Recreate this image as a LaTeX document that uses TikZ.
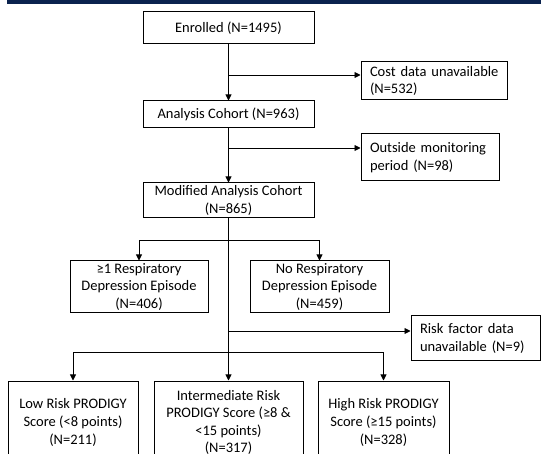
\documentclass[tikz,border=0pt]{standalone}
\usepackage{fontspec}
\setmainfont{Carlito}
\usetikzlibrary{arrows.meta}
\definecolor{navybar}{RGB}{10,34,78}
\begin{document}
\begin{tikzpicture}[x=1pt,y=-1pt,
  box/.style={draw, line width=1pt, inner sep=0pt, align=center,
    font=\fontsize{14.5}{17.6}\selectfont},
  lbox/.style={box, align=left},
  conn/.style={line width=0.9pt},
  arr/.style={conn, -{Triangle[length=6pt,width=6pt]}}]
\useasboundingbox (0,0) rectangle (541,454);
\clip (0,0) rectangle (541,454);
\fill[navybar] (7,0) rectangle (541,4.5);

\node[box, minimum width=171pt, minimum height=32pt] (enr) at (228.5,28) {Enrolled (N=1495)};
\node[lbox, minimum width=146pt, minimum height=38pt, text width=128pt] (cost) at (434,81) {\mbox{Cost data unavailable}\\(N=532)};
\node[box, minimum width=171pt, minimum height=27pt] (ana) at (228.5,114.5) {Analysis Cohort (N=963)};
\node[lbox, minimum width=138pt, minimum height=47pt, text width=120pt] (out) at (430,157.5) {\mbox{Outside monitoring}\\period (N=98)};
\node[box, minimum width=171pt, minimum height=35pt] (mod) at (228.5,200.5) {Modified Analysis Cohort\\(N=865)};
\node[box, minimum width=138pt, minimum height=52pt] (resp) at (139,287) {≥1 Respiratory\\Depression Episode\\(N=406)};
\node[box, minimum width=139pt, minimum height=52pt] (nores) at (319.5,287) {No Respiratory\\Depression Episode\\(N=459)};
\node[lbox, minimum width=129pt, minimum height=45pt, text width=111pt] (risk) at (475.5,338.5) {\mbox{Risk factor data}\\\mbox{unavailable (N=9)}};
\node[box, minimum width=130pt, minimum height=83pt] (low) at (73,422.5) {Low Risk PRODIGY\\Score (<8 points)\\(N=211)};
\node[box, minimum width=149pt, minimum height=83pt] (mid) at (228.5,422.5) {Intermediate Risk\\PRODIGY Score (≥8 \&\\<15 points)\\(N=317)};
\node[box, minimum width=131pt, minimum height=83pt] (high) at (383.5,422.5) {High Risk PRODIGY\\Score (≥15 points)\\(N=328)};

\coordinate (b1) at (228.5,75);
\coordinate (b2) at (228.5,148);
\coordinate (b3) at (228.5,240);
\coordinate (b4) at (228.5,331);
\coordinate (b5) at (228.5,352);

\draw[arr] (enr.south) -- (ana.north);
\draw[arr] (b1) -- (b1 -| cost.west);
\draw[arr] (ana.south) -- (mod.north);
\draw[arr] (b2) -- (b2 -| out.west);
\draw[arr] (mod.south) -- (mid.north);
\draw[arr] (b3) -| (resp.north);
\draw[arr] (b3) -| (nores.north);
\draw[arr] (b4) -- (b4 -| risk.west);
\draw[arr] (b5) -| (low.north);
\draw[arr] (b5) -| (high.north);
\end{tikzpicture}
\end{document}
